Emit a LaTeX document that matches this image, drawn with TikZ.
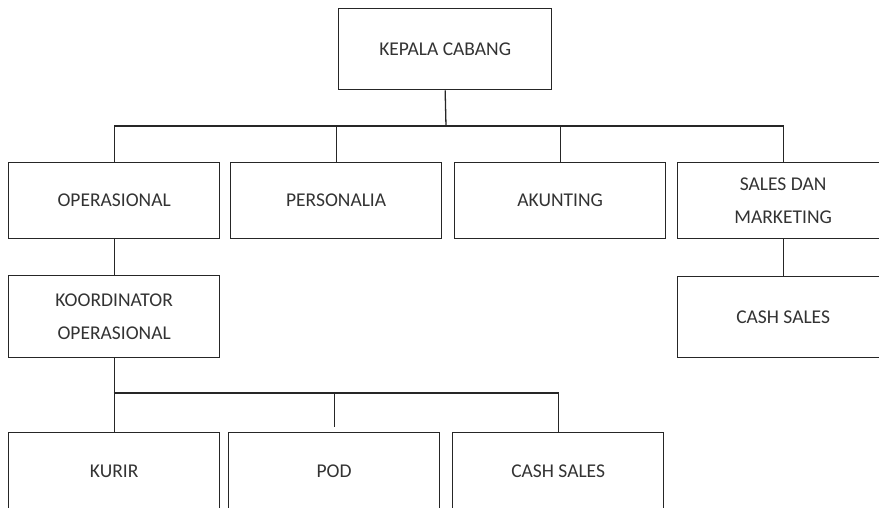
\documentclass[tikz,border=0pt]{standalone}
\usepackage{fontspec}
\setmainfont{Carlito}
\begin{document}
\begin{tikzpicture}[x=1pt,y=-1pt,
  box/.style={draw=black!85, line width=1.3pt, fill=white, align=center,
    font=\fontsize{19.5}{33}\selectfont, text=black!80, inner sep=0pt,
    anchor=north west, minimum width=211pt},
  link/.style={draw=black!85, line width=1.3pt}]
\useasboundingbox (0,0) rectangle (879,508);
\clip (0,0) rectangle (879,508);
% top
\node[box, minimum width=213pt, minimum height=81pt] (kc) at (338,8) {KEPALA CABANG};
% level 2
\node[box, minimum height=76pt] (op) at (8,162) {OPERASIONAL};
\node[box, minimum height=76pt] (ps) at (230,162) {PERSONALIA};
\node[box, minimum height=76pt] (ak) at (454,162) {AKUNTING};
\node[box, minimum height=76pt] (sm) at (677,162) {SALES DAN\\MARKETING};
% level 3
\node[box, minimum height=82pt] (ko) at (8,275) {KOORDINATOR\\OPERASIONAL};
\node[box, minimum height=81pt] (cs2) at (677,276) {CASH SALES};
% level 4
\node[box, minimum height=78pt] (ku) at (8,432) {KURIR};
\node[box, minimum height=78pt] (pod) at (228,432) {POD};
\node[box, minimum height=78pt] (cs1) at (452,432) {CASH SALES};
% connectors
\coordinate (bus1) at (446,126);
\coordinate (bus2) at (113.5,393);
\draw[link] (kc.south) -- (bus1);
\draw[link] (op.north) |- (sm.north |- bus1) -- (sm.north);
\draw[link] (ps.north) -- (ps.north |- bus1);
\draw[link] (ak.north) -- (ak.north |- bus1);
\draw[link] (op.south) -- (ko.north);
\draw[link] (sm.south) -- (cs2.north);
\draw[link] (ko.south) -- (ku.north);
\draw[link] (bus2) -| (cs1.north);
\draw[link] (pod.north |- bus2) -- ([yshift=5pt]pod.north);
\end{tikzpicture}
\end{document}
